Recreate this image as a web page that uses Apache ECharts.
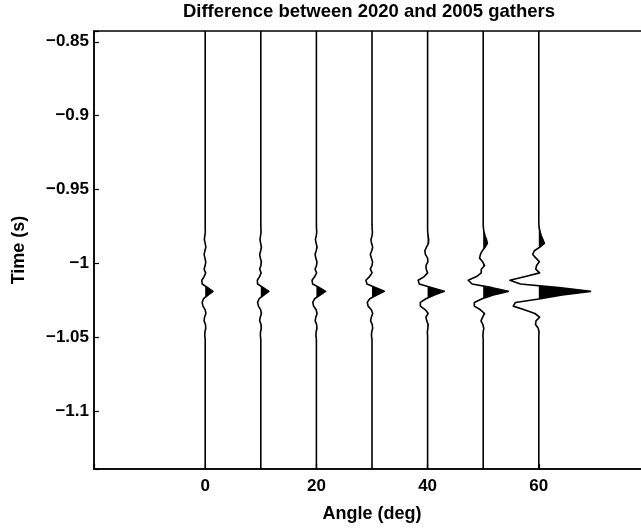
<!DOCTYPE html>
<html>
<head>
<meta charset="utf-8">
<script src="https://cdn.jsdelivr.net/npm/echarts@6/dist/echarts.min.js"></script>
<style>
html,body{margin:0;padding:0;background:#fff;}
#chart{width:641px;height:528px;}
</style>
</head>
<body>
<div id="chart"></div>
<script>
// Trace angles (deg)
const angles = [0, 10, 20, 30, 40, 50, 60];
// Time samples (s), shared by every trace (first/last are the window ends)
const times = [-0.8427, -0.9715, -0.9740, -0.9765, -0.9790, -0.9815, -0.9840, -0.9865, -0.9890, -0.9915,
  -0.9940, -0.9965, -0.9990, -1.0015, -1.0040, -1.0065, -1.0090, -1.0115, -1.0140, -1.0165,
  -1.0190, -1.0215, -1.0240, -1.0265, -1.0290, -1.0315, -1.0340, -1.0365, -1.0390, -1.0415,
  -1.0440, -1.0465, -1.0490, -1.0515, -1.0540, -1.0565, -1.1393];
// Difference amplitudes (scaled to deg units) per trace
const trace0  = [0, 0, 0, 0, 0.02, -0.08, -0.15, 0, 0.12, -0.05, -0.2, -0.05, 0.1, 0, -0.2, 0.08, -0.2, -0.6, -0.55, 0.45, 1.4, 0.5, -0.3, -0.55, -0.4, 0, 0.12, -0.12, -0.2, 0.05, 0.1, -0.05, -0.08, 0, 0, 0, 0];
const trace10 = [0, 0, 0, 0.02, 0.05, -0.05, -0.15, -0.02, 0.12, -0.02, -0.2, -0.08, 0.1, 0.02, -0.2, 0.06, -0.22, -0.62, -0.58, 0.45, 1.45, 0.55, -0.3, -0.58, -0.42, -0.02, 0.12, -0.1, -0.2, 0.05, 0.1, -0.05, -0.08, 0, 0, 0, 0];
const trace20 = [0, 0, 0, 0.02, 0.06, -0.04, -0.18, -0.04, 0.12, -0.04, -0.24, -0.1, 0.1, 0.02, -0.24, 0.04, -0.3, -0.78, -0.68, 0.55, 1.65, 0.65, -0.32, -0.65, -0.5, -0.05, 0.12, -0.1, -0.22, 0.04, 0.1, -0.05, -0.08, 0, 0, 0, 0];
const trace30 = [0, 0, 0, 0.03, 0.08, 0, -0.2, -0.08, 0.12, -0.05, -0.3, -0.12, 0.1, 0, -0.3, 0.02, -0.45, -1.1, -0.9, 0.7, 2.2, 0.85, -0.4, -0.85, -0.7, -0.12, 0.12, -0.12, -0.25, 0.05, 0.12, -0.05, -0.1, 0, 0, 0, 0];
const trace40 = [0, 0, 0, 0, 0.02, 0.1, 0.2, 0.15, -0.2, -0.5, -0.4, 0, 0.05, -0.3, -0.25, 0, -0.6, -1.7, -1.5, 0.8, 3.0, 1.2, -0.3, -1.3, -1.3, -0.4, 0.1, -0.3, -0.15, 0.1, 0.05, -0.05, 0, 0, 0, 0, 0];
const trace50 = [0, 0, 0, 0.05, 0.15, 0.35, 0.6, 0.75, 0.35, -0.15, -0.5, -0.65, -0.1, 0.25, -0.35, -0.35, -1.2, -2.7, -2.0, 1.6, 4.5, 1.8, -0.2, -1.6, -1.6, -0.5, 0.25, -0.1, -0.4, -0.05, 0.1, 0, -0.05, 0, 0, 0, 0];
const trace60 = [0, 0, 0.02, 0.1, 0.25, 0.45, 0.75, 1.0, 0.2, -0.8, -1.1, -0.5, 0.1, -0.4, -0.55, 0.15, -2.4, -5.2, -3.3, 3.6, 9.3, 4.2, 0.3, -4.2, -4.6, -2.6, -0.7, 0.15, -0.5, -0.6, -0.1, 0.05, 0, 0, 0, 0, 0];
const traces = [trace0, trace10, trace20, trace30, trace40, trace50, trace60];

// Axis ranges
const xMin = -20, xMax = 80, xStep = 20;
const yMin = -1.1393, yMax = -0.8427;

const FONT = '"Liberation Sans", Arial, Helvetica, sans-serif';

function fmtY(v) {
  const q = v / 0.05;
  if (Math.abs(q - Math.round(q)) > 1e-6) return '';
  return String(parseFloat(v.toFixed(2))).replace('-', '\u2212');
}
function fmtX(v) {
  if (v <= xMin || v >= xMax) return '';
  return String(v).replace('-', '\u2212');
}

const lineSeries = traces.map((amp, j) => ({
  type: 'line',
  data: times.map((t, i) => [angles[j] + amp[i], t]),
  symbol: 'none',
  silent: true,
  animation: false,
  lineStyle: { color: '#000', width: 1.6, join: 'round' },
  z: 3
}));

const fillSeries = {
  type: 'custom',
  data: angles.map(a => [a, -1]),
  silent: true,
  animation: false,
  clip: true,
  z: 2,
  renderItem: function (params, api) {
    const j = params.dataIndex;
    const a0 = angles[j];
    const amp = traces[j];
    const pts = [];
    for (let i = 0; i < times.length; i++) {
      if (i > 0) {
        const p = amp[i - 1], c = amp[i];
        if ((p > 0 && c < 0) || (p < 0 && c > 0)) {
          const tc = times[i - 1] + (times[i] - times[i - 1]) * (p / (p - c));
          pts.push(api.coord([a0, tc]));
        }
      }
      pts.push(api.coord([a0 + Math.max(amp[i], 0), times[i]]));
    }
    return { type: 'polygon', shape: { points: pts }, style: { fill: '#000' } };
  }
};

const chart = echarts.init(document.getElementById('chart'), null, { renderer: 'canvas' });
chart.setOption({
  animation: false,
  backgroundColor: '#fff',
  title: {
    text: 'Difference between 2020 and 2005 gathers',
    left: 369,
    top: 2,
    padding: 0,
    textAlign: 'center',
    textStyle: { fontFamily: FONT, fontSize: 18.5, fontWeight: 'bold', color: '#000' }
  },
  grid: {
    left: 94, top: 31, width: 556, height: 438,
    outerBoundsMode: 'none',
    containLabel: false,
    show: true, borderColor: '#000', borderWidth: 1.5, backgroundColor: 'transparent'
  },
  xAxis: {
    type: 'value',
    min: xMin, max: xMax, interval: xStep,
    name: 'Angle (deg)',
    nameLocation: 'middle',
    nameGap: 36,
    nameTextStyle: { fontFamily: FONT, fontSize: 18, fontWeight: 'bold', color: '#000' },
    axisLine: { show: true, onZero: false, lineStyle: { color: '#000', width: 1.5 } },
    axisTick: { show: true, inside: true, length: 5, lineStyle: { color: '#000', width: 1.2 } },
    splitLine: { show: false },
    axisLabel: { formatter: fmtX, margin: 9, fontFamily: FONT, fontSize: 17, fontWeight: 'bold', color: '#000' }
  },
  yAxis: {
    type: 'value',
    min: yMin, max: yMax,
    name: 'Time (s)',
    nameLocation: 'middle',
    nameGap: 66,
    nameTextStyle: { fontFamily: FONT, fontSize: 18, fontWeight: 'bold', color: '#000' },
    axisLine: { show: true, onZero: false, lineStyle: { color: '#000', width: 1.5 } },
    axisTick: { show: true, inside: true, length: 5, lineStyle: { color: '#000', width: 1.2 } },
    splitLine: { show: false },
    axisLabel: { formatter: fmtY, margin: 5, fontFamily: FONT, fontSize: 17, fontWeight: 'bold', color: '#000' }
  },
  series: [fillSeries].concat(lineSeries)
});
</script>
</body>
</html>
